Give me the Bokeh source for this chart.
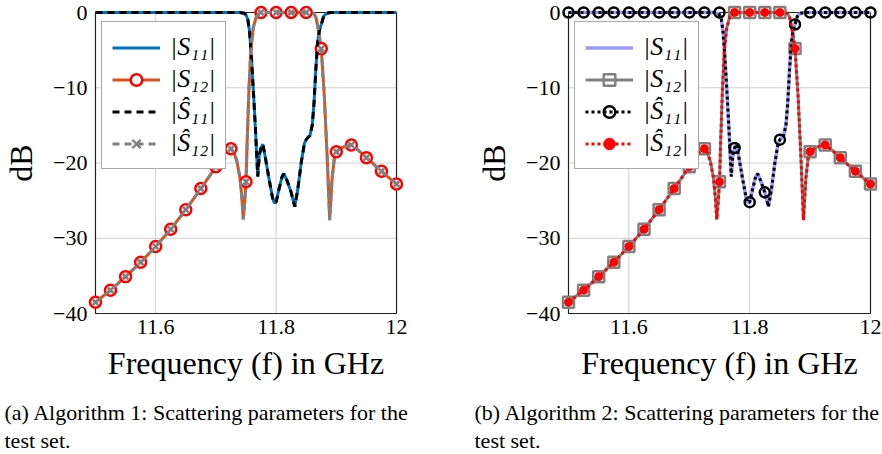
from bokeh.plotting import figure
from bokeh.models import Range1d, FixedTicker, Legend, LegendItem, CustomJSTickFormatter
from bokeh.layouts import row, column
from bokeh.embed import file_html
from bokeh.resources import INLINE
from bokeh.core.properties import value

FONT = "Liberation Serif"

# ---------------- data ----------------
# |S11| in dB (dense trace)
f_s11 = [11.500, 11.740, 11.747, 11.750, 11.753, 11.756, 11.759, 11.763, 11.766,
         11.7695, 11.772, 11.775, 11.778, 11.782, 11.788, 11.794, 11.797, 11.800,
         11.805, 11.810, 11.813, 11.818, 11.825, 11.831, 11.836, 11.842, 11.847,
         11.850, 11.853, 11.856, 11.860, 11.863, 11.866, 11.869, 11.872, 11.875,
         11.879, 11.884, 11.890, 12.000]
s11_db = [0.0, 0.0, -0.1, -0.3, -0.9, -2.6, -6.0, -11.5, -16.0,
          -21.8, -19.0, -18.0, -17.5, -19.2, -22.0, -24.6, -25.3, -25.2,
          -23.4, -21.8, -21.4, -22.3, -23.9, -25.8, -23.5, -19.8, -17.4,
          -16.9, -16.6, -16.4, -15.0, -12.0, -7.5, -4.0, -2.3, -1.6,
          -0.5, -0.1, 0.0, 0.0]

# |S12| in dB (dense trace)
f_s12 = [11.500, 11.525, 11.550, 11.575, 11.600, 11.625, 11.650, 11.675, 11.700,
         11.710, 11.718, 11.725, 11.730, 11.735, 11.740, 11.743, 11.7455, 11.748,
         11.750, 11.752, 11.755, 11.758, 11.762, 11.767, 11.772, 11.775, 11.800,
         11.825, 11.850, 11.862, 11.866, 11.870, 11.875, 11.880, 11.885, 11.889,
         11.893, 11.897, 11.900, 11.910, 11.925, 11.935, 11.950, 11.975, 12.000]
s12_db = [-38.5, -36.9, -35.1, -33.2, -31.1, -28.8, -26.2, -23.4, -20.5,
          -19.2, -18.4, -18.1, -18.6, -19.8, -22.0, -24.5, -27.5, -25.0,
          -22.5, -17.0, -10.0, -5.0, -2.0, -0.6, -0.1, 0.0, 0.0,
          0.0, 0.0, -0.1, -0.6, -2.2, -4.8, -11.0, -19.5, -27.6,
          -22.0, -19.2, -18.5, -17.9, -17.6, -18.2, -19.3, -21.1, -22.8]

# marker positions (every 0.025 GHz)
f_mk = [11.500, 11.525, 11.550, 11.575, 11.600, 11.625, 11.650, 11.675, 11.700,
        11.725, 11.750, 11.775, 11.800, 11.825, 11.850, 11.875, 11.900, 11.925,
        11.950, 11.975, 12.000]
s12_mk = [-38.5, -36.9, -35.1, -33.2, -31.1, -28.8, -26.2, -23.4, -20.5,
          -18.1, -22.5, 0.0, 0.0, 0.0, 0.0, -4.8, -18.5, -17.6,
          -19.3, -21.1, -22.8]
s11_mk = [0.0, 0.0, 0.0, 0.0, 0.0, 0.0, 0.0, 0.0, 0.0,
          0.0, 0.0, -18.0, -25.2, -23.9, -16.9, -1.6, 0.0, 0.0,
          0.0, 0.0, 0.0]

x_ticks = [11.6, 11.8, 12.0]
x_tick_labels = ["11.6", "11.8", "12"]
y_ticks = [-40, -30, -20, -10, 0]
y_tick_labels = ["\u221240", "\u221230", "\u221220", "\u221210", "0"]
x_grid = [11.6, 11.8]
y_grid = [-30, -20, -10]
X_MIN, X_MAX, Y_MIN, Y_MAX = 11.5, 12.0, -40.0, 0.0

legend_labels = ["|S\u2081\u2081|", "|S\u2081\u2082|", "|\u015c\u2081\u2081|", "|\u015c\u2081\u2082|"]
caption_a = ["(a) Algorithm 1: Scattering parameters for the", "test set."]
caption_b = ["(b) Algorithm 2: Scattering parameters for the", "test set."]

# ---------------- layout helpers ----------------
BOX_W, BOX_H = 302.0, 301.0
PX_X = BOX_W / (X_MAX - X_MIN)
PX_Y = BOX_H / (Y_MAX - Y_MIN)
PAD = 8

TICK_JS = """
for (let i = 0; i < tv.length; i++) {
  if (Math.abs(tv[i] - tick) < 1e-6) { return tl[i]; }
}
return "";
"""


def base_fig(min_left, min_right, pad_r):
    p = figure(width=441, height=388, output_backend="svg", toolbar_location=None,
               x_range=Range1d(X_MIN - PAD / PX_X, X_MAX + pad_r / PX_X),
               y_range=Range1d(Y_MIN - PAD / PX_Y, Y_MAX + PAD / PX_Y),
               min_border_left=min_left, min_border_right=min_right,
               min_border_top=4, min_border_bottom=67)
    p.outline_line_color = None
    p.xgrid.visible = False
    p.ygrid.visible = False
    p.segment(x0=x_grid, y0=[Y_MIN] * len(x_grid), x1=x_grid, y1=[Y_MAX] * len(x_grid),
              line_color="#d0d0d0", line_width=1)
    p.segment(x0=[X_MIN] * len(y_grid), y0=y_grid, x1=[X_MAX] * len(y_grid), y1=y_grid,
              line_color="#d0d0d0", line_width=1)
    p.quad(left=[X_MIN], right=[X_MAX], bottom=[Y_MIN], top=[Y_MAX],
           fill_color=None, line_color="#222222", line_width=1.2)
    for ax in (p.xaxis[0], p.yaxis[0]):
        ax.axis_line_color = None
        ax.major_tick_line_color = None
        ax.minor_tick_line_color = None
        ax.major_tick_in = 0
        ax.major_tick_out = 0
        ax.minor_tick_in = 0
        ax.minor_tick_out = 0
        ax.major_label_text_font = FONT
        ax.major_label_text_font_size = "22px"
        ax.major_label_text_color = "black"
        ax.axis_label_text_font = FONT
        ax.axis_label_text_font_size = "32px"
        ax.axis_label_text_font_style = "normal"
        ax.axis_label_text_color = "black"
    p.xaxis.ticker = FixedTicker(ticks=x_ticks)
    p.xaxis.formatter = CustomJSTickFormatter(args=dict(tv=x_ticks, tl=x_tick_labels), code=TICK_JS)
    p.yaxis.ticker = FixedTicker(ticks=y_ticks)
    p.yaxis.formatter = CustomJSTickFormatter(args=dict(tv=y_ticks, tl=y_tick_labels), code=TICK_JS)
    p.xaxis.axis_label = "Frequency (f) in GHz"
    p.yaxis.axis_label = "dB"
    p.xaxis.major_label_standoff = -2
    p.yaxis.major_label_standoff = 0
    p.xaxis.axis_label_standoff = 8
    p.yaxis.axis_label_standoff = 11
    return p


def add_legend(p, items):
    leg = Legend(items=items, location=(14, 152), margin=0, padding=10, spacing=2,
                 glyph_width=48, glyph_height=29, label_height=29, label_standoff=10,
                 label_text_font=FONT, label_text_font_size="26px",
                 label_text_font_style="italic", label_text_color="black",
                 border_line_color="#555555", border_line_width=1,
                 background_fill_color="white", background_fill_alpha=1.0)
    p.add_layout(leg)


# ---------------- panel (a) ----------------
pa = base_fig(86, 37, 8)
a1 = pa.line(f_s11, s11_db, line_color="#0072BD", line_width=3)
a2 = pa.line(f_s12, s12_db, line_color="#D95319", line_width=3)
a2m = pa.scatter(f_mk, s12_mk, marker="circle", size=11, line_color="#FF0000",
                 line_width=2.5, fill_color="white")
a3 = pa.line(f_s11, s11_db, line_color="black", line_width=3, line_dash="7 5")
a4 = pa.line(f_s12, s12_db, line_color="#808080", line_width=3, line_dash="7 5")
a4m = pa.scatter(f_mk, s12_mk, marker="x", size=8, line_color="#808080", line_width=2.5)
add_legend(pa, [LegendItem(label=legend_labels[0], renderers=[a1]),
                LegendItem(label=legend_labels[1], renderers=[a2, a2m]),
                LegendItem(label=legend_labels[2], renderers=[a3]),
                LegendItem(label=legend_labels[3], renderers=[a4, a4m])])

# ---------------- panel (b) ----------------
pb = base_fig(119, 4, 8)
b1 = pb.line(f_s11, s11_db, line_color="#9999FF", line_width=3.5)
b2 = pb.line(f_s12, s12_db, line_color="#808080", line_width=3)
b2m = pb.scatter(f_mk, s12_mk, marker="square", size=11, line_color="#808080",
                 line_width=2.5, fill_color=None)
b3 = pb.line(f_s11, s11_db, line_color="black", line_width=3, line_dash="3 3")
b3m = pb.scatter(f_mk, s11_mk, marker="circle", size=10, line_color="black",
                 line_width=2.5, fill_color=None)
b4 = pb.line(f_s12, s12_db, line_color="#FF0000", line_width=3, line_dash="3 3")
b4m = pb.scatter(f_mk, s12_mk, marker="circle", size=8, line_color="#FF0000",
                 fill_color="#FF0000", line_width=1)
add_legend(pb, [LegendItem(label=legend_labels[0], renderers=[b1]),
                LegendItem(label=legend_labels[1], renderers=[b2, b2m]),
                LegendItem(label=legend_labels[2], renderers=[b3, b3m]),
                LegendItem(label=legend_labels[3], renderers=[b4, b4m])])


# ---------------- captions ----------------
def caption_fig(lines, x0):
    c = figure(width=441, height=66, output_backend="svg", toolbar_location=None,
               x_range=Range1d(0, 441), y_range=Range1d(0, 66),
               x_axis_type=None, y_axis_type=None, min_border=0)
    c.outline_line_color = None
    c.xgrid.visible = False
    c.ygrid.visible = False
    c.text(x=[x0, x0], y=[42, 14], text=lines, text_font=value(FONT),
           text_font_size="22px", text_color="black",
           text_align="left", text_baseline="alphabetic")
    return c


ca = caption_fig(caption_a, 4)
cb = caption_fig(caption_b, 33)

layout = column(row(pa, pb), row(ca, cb))
open("out.html", "w").write(file_html(layout, INLINE))
